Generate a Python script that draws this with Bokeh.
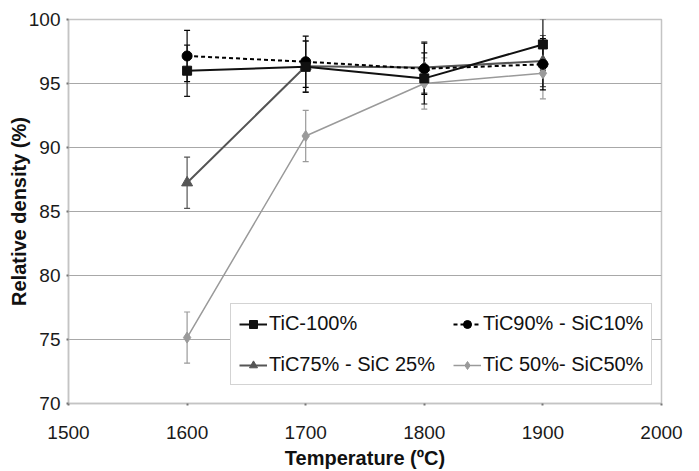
from bokeh.plotting import figure
from bokeh.models import (Range1d, FixedTicker, Legend, LegendItem, Whisker,
                          ColumnDataSource, TeeHead)
from bokeh.embed import file_html
from bokeh.resources import INLINE

temps = [1600, 1700, 1800, 1900]
tic100 = [96.0, 96.3, 95.4, 98.05]
tic90 = [97.15, 96.7, 96.15, 96.5]
tic75 = [87.25, 96.35, 96.25, 96.75]
tic50 = [75.15, 90.9, 95.0, 95.8]
err = [2.0, 2.0, 2.0, 2.0]

series = [
    ("TiC 50%- SiC50%", tic50, "#9a9a9a", "solid", 1.5, "diamond", 11),
    ("TiC75% - SiC 25%", tic75, "#555555", "solid", 2, "triangle", 11),
    ("TiC90% - SiC10%", tic90, "#000000", "4 3", 2, "circle", 10),
    ("TiC-100%", tic100, "#111111", "solid", 2, "square", 9),
]

FONT = "Liberation Sans"

p = figure(width=699, height=471, output_backend="svg", toolbar_location=None,
           x_range=Range1d(1500, 2000), y_range=Range1d(70, 100),
           min_border_left=68, min_border_right=38, min_border_top=19,
           min_border_bottom=68)
p.background_fill_color = "white"
p.border_fill_color = "white"
p.outline_line_color = "#c4c4c4"
p.outline_line_width = 1.5

p.xgrid.grid_line_color = None
p.ygrid.grid_line_color = "#a8a8a8"
p.ygrid.grid_line_width = 1.2

p.xaxis.ticker = FixedTicker(ticks=[1500, 1600, 1700, 1800, 1900, 2000])
p.yaxis.ticker = FixedTicker(ticks=[70, 75, 80, 85, 90, 95, 100])
for ax in (p.xaxis[0], p.yaxis[0]):
    ax.axis_line_color = "#c4c4c4"
    ax.axis_line_width = 1.5
    ax.major_tick_line_color = "#777777"
    ax.major_tick_line_width = 2
    ax.major_tick_out = 2
    ax.major_tick_in = 0
    ax.minor_tick_line_color = None
    ax.major_label_text_font = FONT
    ax.major_label_text_font_size = "19px"
    ax.major_label_text_color = "#1a1a1a"
    ax.axis_label_text_font = FONT
    ax.axis_label_text_font_size = "20px"
    ax.axis_label_text_font_style = "bold"
    ax.axis_label_text_color = "#111111"

p.xaxis.axis_label = "Temperature (ºC)"
p.yaxis.axis_label = "Relative density (%)"
p.xaxis.major_label_standoff = 20
p.xaxis.axis_label_standoff = 5
p.yaxis.major_label_standoff = 6
p.yaxis.axis_label_standoff = -4

items = []
for name, vals, color, dash, lw, marker, size in series:
    src = ColumnDataSource(dict(x=temps, y=vals,
                                lo=[v - e for v, e in zip(vals, err)],
                                hi=[v + e for v, e in zip(vals, err)]))
    w = Whisker(source=src, base="x", lower="lo", upper="hi",
                line_color=color, line_width=1.2,
                lower_head=TeeHead(size=6, line_color=color, line_width=1.2),
                upper_head=TeeHead(size=6, line_color=color, line_width=1.2))
    p.add_layout(w)
    ln = p.line("x", "y", source=src, line_color=color, line_width=lw,
                line_dash=dash)
    sc = p.scatter("x", "y", source=src, marker=marker, size=size,
                   fill_color=color, line_color=color)
    items.append((name, [ln, sc]))

# column-major fill: column 1 = first two, column 2 = last two
order = ["TiC-100%", "TiC75% - SiC 25%", "TiC90% - SiC10%", "TiC 50%- SiC50%"]
d = dict(items)
legend = Legend(items=[LegendItem(label=n, renderers=d[n]) for n in order],
                ncols=2, location=(162, 18))
legend.label_text_font = FONT
legend.label_text_font_size = "20px"
legend.label_text_color = "#111111"
legend.border_line_color = "#a8a8a8"
legend.border_line_width = 1.2
legend.background_fill_alpha = 1
legend.glyph_width = 28
legend.glyph_height = 20
legend.label_height = 20
legend.label_standoff = 2
legend.padding = 8
legend.margin = 0
legend.spacing = 18
p.add_layout(legend, "center")

open("out.html", "w").write(file_html(p, INLINE))
